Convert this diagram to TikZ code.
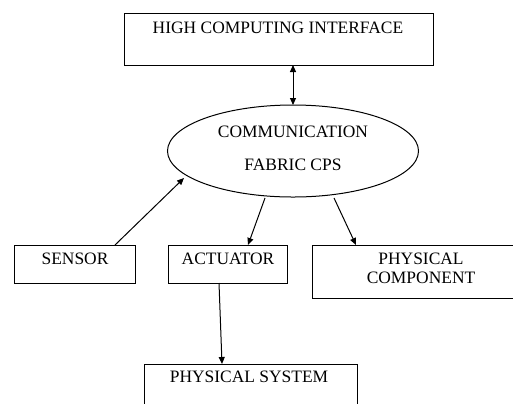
\documentclass[tikz,border=0pt]{standalone}
\usepackage{fontspec}
\setmainfont{Liberation Serif}
\usetikzlibrary{shapes.geometric,arrows.meta}
\tikzset{
  box/.style={draw, line width=1bp, inner sep=0pt},
  txt/.style={inner sep=0pt, font=\fontsize{17.5}{19}\selectfont, align=center},
  arr/.style={line width=1bp, -{Triangle[length=7bp,width=6bp]}},
  darr/.style={line width=1bp, {Triangle[length=7bp,width=6bp]}-{Triangle[length=7bp,width=6bp]}}
}
\begin{document}
\begin{tikzpicture}[x=1bp,y=-1bp]
\useasboundingbox (0,0) rectangle (513,403);
\clip (0,0) rectangle (513,403);
% boxes
\node[box, minimum width=309bp, minimum height=52bp] (hci) at (278.5,39) {};
\node[box, ellipse, minimum width=251bp, minimum height=92bp] (cf) at (293,151) {};
\node[box, minimum width=120bp, minimum height=38bp] (sen) at (75,264) {};
\node[box, minimum width=119bp, minimum height=38bp] (act) at (227.5,264) {};
\node[box, minimum width=216bp, minimum height=53bp] (pc) at (420,271.5) {};
\node[box, minimum width=213bp, minimum height=60bp] (ps) at (250.5,394) {};
% texts
\node[txt] (thci) at (278,27.5) {HIGH COMPUTING INTERFACE};
\node[txt] (tcf1) at (293,131.5) {COMMUNICATION};
\node[txt] (tcf2) at (293,165) {FABRIC CPS};
\node[txt] (tsen) at (75,259) {SENSOR};
\node[txt] (tact) at (228,259) {ACTUATOR};
\node[txt, text depth=0pt] (tpc) at (421,268.5) {PHYSICAL\\COMPONENT};
\node[txt] (tps) at (249,377) {PHYSICAL SYSTEM};
% connectors
\coordinate (hcib) at (293,65);
\coordinate (cft) at (293,105);
\draw[darr] (hcib) -- (cft);
\coordinate (sent) at (115,245);
\coordinate (cfsw) at (184,178);
\draw[arr] (sent) -- (cfsw);
\coordinate (cfs1) at (265,198);
\coordinate (actt) at (248,245);
\draw[arr] (cfs1) -- (actt);
\coordinate (cfs2) at (334,198);
\coordinate (pct) at (356,245);
\draw[arr] (cfs2) -- (pct);
\coordinate (actb) at (219,283);
\coordinate (pst) at (222,364);
\draw[arr] (actb) -- (pst);
\end{tikzpicture}
\end{document}
